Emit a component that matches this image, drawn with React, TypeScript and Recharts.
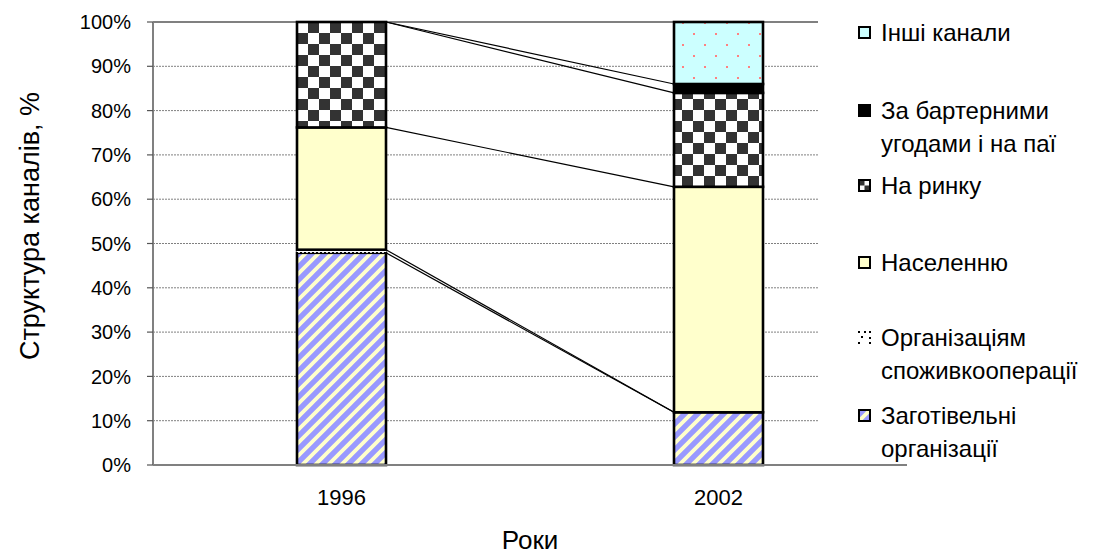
import React from 'react';
import { BarChart, Bar, XAxis, YAxis, CartesianGrid } from 'recharts';

// ---------- data ----------
const years = ['1996', '2002'];
const zagotivelni = [47.9, 11.9];
const spozhyvkoop = [0.7, 0];
const naselennyu = [27.6, 50.9];
const naRynku = [23.8, 21.2];
const barter = [0, 2.0];
const inshi = [0, 14.0];
const yTicks = [0, 10, 20, 30, 40, 50, 60, 70, 80, 90, 100];

const seriesNames = [
  'Заготівельні\nорганізації',
  'Організаціям\nспоживкооперації',
  'Населенню',
  'На ринку',
  'За бартерними\nугодами і на паї',
  'Інші канали',
];
const seriesValues = [zagotivelni, spozhyvkoop, naselennyu, naRynku, barter, inshi];

// ---------- layout ----------
const FONT = "Arial, 'Liberation Sans', sans-serif";
const CHART_W = 1098;
const CHART_H = 554;
const PLOT_LEFT = 153;
const PLOT_TOP = 22;
const PLOT_RIGHT = 907;
const PLOT_BOTTOM = 465;
const PLOT_H = PLOT_BOTTOM - PLOT_TOP;
const BAND = (PLOT_RIGHT - PLOT_LEFT) / years.length;
const GRID_FRAC = (818 - PLOT_LEFT) / (PLOT_RIGHT - PLOT_LEFT);

const seriesStyle = [
  { fill: 'url(#patStripes)', stroke: '#000', sw: 2.6 },
  { fill: 'url(#patDots)', stroke: 'none', sw: 0 },
  { fill: '#FFFFCC', stroke: '#000', sw: 2.6 },
  { fill: 'url(#patChecker)', stroke: '#000', sw: 2.6 },
  { fill: '#000000', stroke: '#000', sw: 2.6 },
  { fill: 'url(#patCyan)', stroke: '#000', sw: 2.6 },
];

const data = years.map((year, i) => {
  const row: any = { year };
  seriesValues.forEach((vals, s) => {
    row['s' + s] = vals[i];
  });
  return row;
});

const cumulative = years.map((_, i) => {
  let acc = 0;
  return seriesValues.map((vals) => {
    acc += vals[i];
    return acc;
  });
});

const yOf = (v: number) => PLOT_TOP + PLOT_H * (1 - v / 100);

const makeShape = (s: number) => (props: any) => {
  const { x, y, width, height, index } = props;
  const st = seriesStyle[s];
  const rect =
    height > 0 ? (
      <rect
        x={x}
        y={y}
        width={width}
        height={height}
        fill={st.fill}
        stroke={st.stroke}
        strokeWidth={st.sw}
      />
    ) : null;
  let lines: any = null;
  if (s === 0 && index === 0) {
    lines = seriesValues.slice(0, seriesValues.length - 1).map((_, k) => (
      <line
        key={'sl' + k}
        x1={x + width}
        y1={yOf(cumulative[0][k])}
        x2={x + BAND}
        y2={yOf(cumulative[1][k])}
        stroke="#000"
        strokeWidth={1.2}
      />
    ));
  }
  return (
    <g>
      {rect}
      {lines}
    </g>
  );
};

const gridLine = (p: any) => {
  const isTop = Math.abs(p.y1 - PLOT_TOP) < 1;
  return (
    <line
      key={'g' + p.index + '-' + p.y1}
      x1={p.x1}
      x2={p.x1 + (p.x2 - p.x1) * GRID_FRAC}
      y1={p.y1}
      y2={p.y2}
      stroke="#808080"
      strokeWidth={isTop ? 2 : 1}
      strokeDasharray={isTop ? undefined : '2 1'}
    />
  );
};

const YLabel = () => (
  <text
    x={30}
    y={226}
    transform="rotate(-90 30 226)"
    textAnchor="middle"
    dominantBaseline="central"
    fontSize={27}
    fontFamily={FONT}
    fill="#000"
  >
    Структура каналів, %
  </text>
);

// ---------- legend ----------
const legendTops = [16, 94, 169, 246, 321, 399];

const Marker = ({ s }: { s: number }) => {
  if (s === 1) {
    return (
      <svg width={13} height={13}>
        <rect x={0} y={0} width={2} height={2} fill="#000" />
        <rect x={6} y={0} width={2} height={2} fill="#000" />
        <rect x={11} y={0} width={2} height={2} fill="#000" />
        <rect x={3} y={5} width={2} height={2} fill="#000" />
        <rect x={0} y={11} width={2} height={2} fill="#000" />
        <rect x={11} y={11} width={2} height={2} fill="#000" />
        <rect x={11} y={6} width={2} height={2} fill="#000" />
      </svg>
    );
  }
  if (s === 3) {
    return (
      <svg width={13} height={13}>
        <rect x={1} y={1} width={11} height={11} fill="#fff" stroke="#000" strokeWidth={2} />
        <rect x={2} y={2} width={4.5} height={4.5} fill="#333" />
        <rect x={6.5} y={6.5} width={4.5} height={4.5} fill="#333" />
      </svg>
    );
  }
  const fills = ['url(#patStripes)', '', '#FFFFCC', '', '#000', '#CCFFFF'];
  return (
    <svg width={13} height={13}>
      <rect x={1} y={1} width={11} height={11} fill={fills[s]} stroke="#000" strokeWidth={2} />
    </svg>
  );
};

const LegendBox = () => {
  const order = [5, 4, 3, 2, 1, 0];
  return (
    <div style={{ position: 'absolute', left: 0, top: 0, width: CHART_W, height: CHART_H, pointerEvents: 'none' }}>
      {order.map((s, i) => (
        <div
          key={s}
          style={{
            position: 'absolute',
            left: 858,
            top: legendTops[i],
            display: 'flex',
            alignItems: 'flex-start',
            fontFamily: FONT,
            fontSize: 24,
            lineHeight: '33px',
            color: '#000',
          }}
        >
          <div style={{ width: 23, height: 33, display: 'flex', alignItems: 'center' }}>
            <Marker s={s} />
          </div>
          <div style={{ whiteSpace: 'pre-line' }}>{seriesNames[s]}</div>
        </div>
      ))}
    </div>
  );
};

export default function App() {
  return (
    <div style={{ position: 'absolute', left: 0, top: 0, width: CHART_W, height: CHART_H, background: '#fff' }}>
      <BarChart
        width={CHART_W}
        height={CHART_H}
        data={data}
        margin={{ top: PLOT_TOP, right: CHART_W - PLOT_RIGHT, left: 0, bottom: 0 }}
      >
        <defs>
          <pattern id="patStripes" patternUnits="userSpaceOnUse" width={13} height={13}>
            <rect x={0} y={0} width={13} height={13} fill="#9999FF" />
            <path
              d="M-4,4 L4,-4 M0,13 L13,0 M9,17 L17,9"
              stroke="#FFFFCC"
              strokeWidth={3.8}
            />
          </pattern>
          <pattern id="patChecker" patternUnits="userSpaceOnUse" width={22} height={22}>
            <rect x={0} y={0} width={22} height={22} fill="#fff" />
            <rect x={0} y={0} width={11} height={11} fill="#333333" />
            <rect x={11} y={11} width={11} height={11} fill="#333333" />
          </pattern>
          <pattern id="patCyan" patternUnits="userSpaceOnUse" width={22} height={22}>
            <rect x={0} y={0} width={22} height={22} fill="#CCFFFF" />
            <rect x={0} y={0} width={2} height={2} fill="#FF8080" />
            <rect x={11} y={11} width={2} height={2} fill="#FF8080" />
          </pattern>
          <pattern id="patDots" patternUnits="userSpaceOnUse" width={4} height={4}>
            <rect x={0} y={0} width={4} height={4} fill="#fff" />
            <rect x={0} y={0} width={2} height={1.5} fill="#000" />
          </pattern>
        </defs>
        <CartesianGrid vertical={false} horizontal={gridLine} />
        <XAxis
          xAxisId="bCat"
          dataKey="year"
          height={CHART_H - PLOT_BOTTOM - 8}
          axisLine={false}
          tickLine={false}
          tickSize={0}
          tickMargin={16}
          tick={{ fontSize: 22, fill: '#000', fontFamily: FONT }}
          label={{ value: 'Роки', position: 'insideBottom', offset: 5, fontSize: 26, fill: '#000', fontFamily: FONT }}
        />
        <XAxis
          xAxisId="aEdges"
          type="number"
          domain={[0, 2]}
          ticks={[0, 1, 2]}
          allowDataOverflow
          tick={false}
          tickSize={7}
          height={8}
          axisLine={{ stroke: '#808080', strokeWidth: 2 }}
          tickLine={{ stroke: '#333', strokeWidth: 1.5 }}
        />
        <YAxis
          width={PLOT_LEFT}
          domain={[0, 100]}
          ticks={yTicks}
          interval={0}
          tickFormatter={(v: number) => v + '%'}
          tickSize={6}
          tickMargin={16}
          tick={{ fontSize: 20, fill: '#000', fontFamily: FONT }}
          axisLine={{ stroke: '#808080', strokeWidth: 2 }}
          tickLine={{ stroke: '#555', strokeWidth: 1.2 }}
          label={<YLabel />}
        />
        {seriesValues.map((_, s) => (
          <Bar
            key={s}
            xAxisId="bCat"
            dataKey={'s' + s}
            name={seriesNames[s]}
            stackId="a"
            barSize={89}
            fill={seriesStyle[s].fill}
            shape={makeShape(s)}
            isAnimationActive={false}
          />
        ))}
      </BarChart>
      <LegendBox />
    </div>
  );
}
